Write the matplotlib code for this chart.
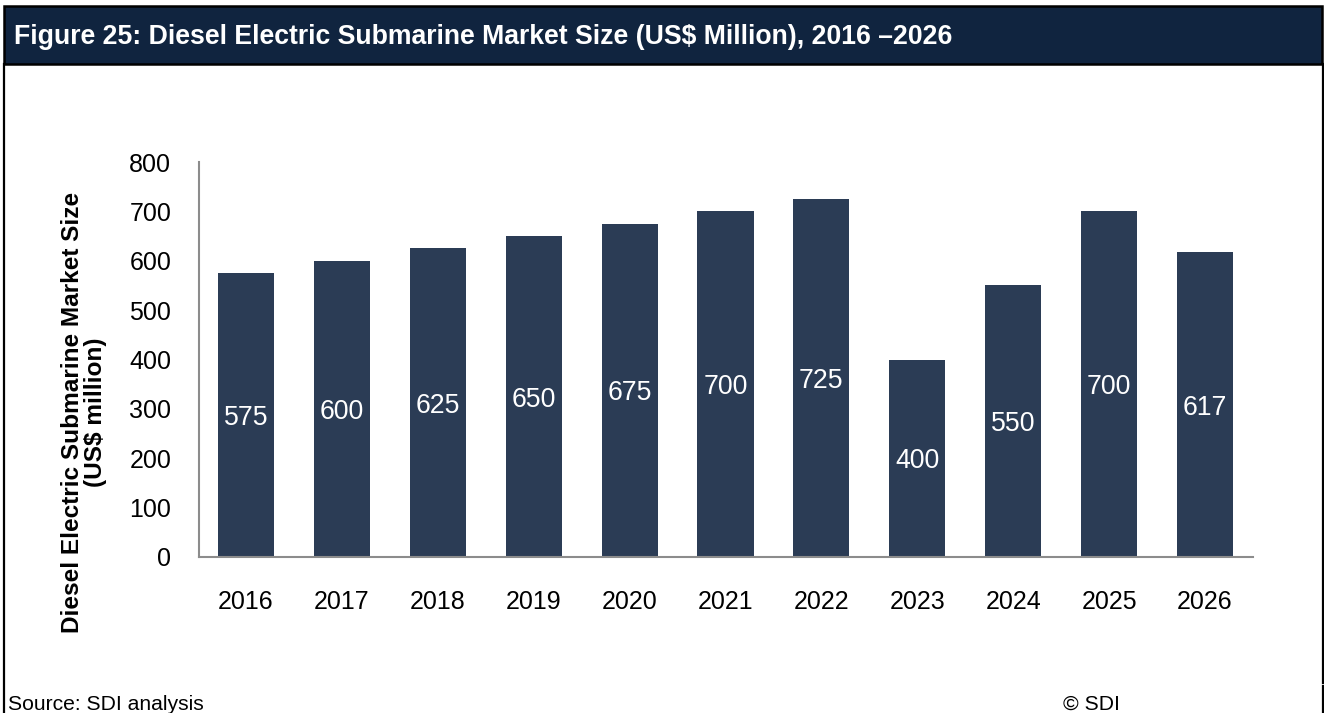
import matplotlib.pyplot as plt
from matplotlib.patches import Rectangle
from matplotlib.lines import Line2D

plt.rcParams['font.family'] = ['Liberation Sans', 'DejaVu Sans']

years = ['2016', '2017', '2018', '2019', '2020', '2021',
         '2022', '2023', '2024', '2025', '2026']
market_size = [575, 600, 625, 650, 675, 700, 725, 400, 550, 700, 617]
y_ticks = [0, 100, 200, 300, 400, 500, 600, 700, 800]

W, H = 1324, 713
fig = plt.figure(figsize=(W / 100, H / 100), dpi=100)

# header band with the figure title
fig.patches.append(Rectangle((4 / W, 1 - 64 / H), 1318 / W, 58 / H,
                             transform=fig.transFigure, facecolor='#10243F',
                             edgecolor='black', linewidth=1.8))
fig.text(14 / W, 1 - 37 / H,
         'Figure 25: Diesel Electric Submarine Market Size (US$ Million), 2016 \u20132026',
         color='white', fontsize=19.2, fontweight='bold', va='center', ha='left')

# side frame lines
fig.lines.append(Line2D([4 / W, 4 / W], [0, 1 - 64 / H], transform=fig.transFigure,
                        color='black', linewidth=1.6))
fig.lines.append(Line2D([1322.5 / W, 1322.5 / W], [1 - 683 / H, 1 - 64 / H],
                        transform=fig.transFigure, color='black', linewidth=1.6))
fig.lines.append(Line2D([1322.5 / W, 1322.5 / W], [0, 1 - 686 / H],
                        transform=fig.transFigure, color='black', linewidth=1.6))

ax = fig.add_axes([199 / W, 156 / H, 1054 / W, 395 / H])
x = range(len(years))
bars = ax.bar(x, market_size, width=0.585, color='#2B3C55')

for xi, v in zip(x, market_size):
    ax.text(xi, v / 2, str(v), color='white', fontsize=19.2,
            ha='center', va='center_baseline')

ax.set_xlim(-0.49, 10.5)
ax.set_ylim(0, 800)
ax.set_yticks(y_ticks)
ax.set_xticks(list(x))
ax.set_xticklabels(years)
ax.tick_params(axis='both', length=0, labelsize=18, colors='black')
ax.tick_params(axis='y', pad=20)
ax.tick_params(axis='x', pad=24)

for side in ['top', 'right']:
    ax.spines[side].set_visible(False)
for side in ['left', 'bottom']:
    ax.spines[side].set_color('#8C8C8C')
    ax.spines[side].set_linewidth(1.5)

fig.text(84 / W, 1 - 412 / H,
         'Diesel Electric Submarine Market Size\n(US$ million)',
         rotation=90, fontsize=17.6, fontweight='bold',
         ha='center', va='center', linespacing=0.95)

fig.text(8 / W, 3 / H, 'Source: SDI analysis', fontsize=15.2, va='baseline', ha='left')
fig.text(1063 / W, 3 / H, '\u00a9 SDI', fontsize=15.2, va='baseline', ha='left')

fig.savefig('out.png', dpi=100)
